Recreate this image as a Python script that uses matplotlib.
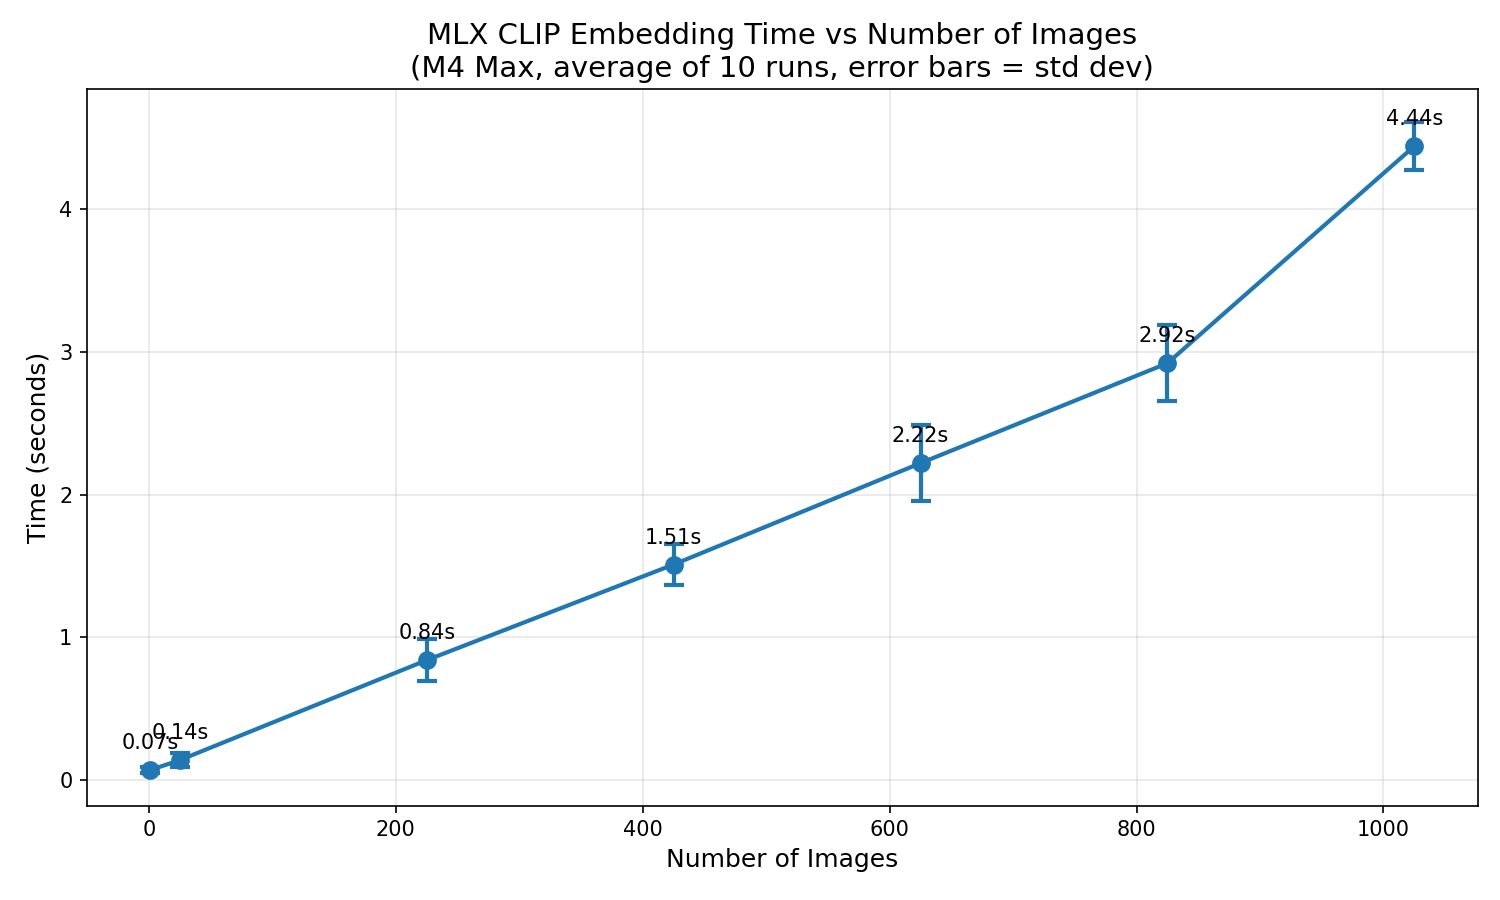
import matplotlib
matplotlib.use("Agg")
import matplotlib.pyplot as plt

# benchmark results
num_images = [1, 25, 225, 425, 625, 825, 1025]
mean_times = [0.07, 0.14, 0.84, 1.51, 2.22, 2.92, 4.44]
std_times = [0.02, 0.05, 0.145, 0.145, 0.265, 0.265, 0.17]

fig, ax = plt.subplots(figsize=(10, 6), dpi=150)

ax.errorbar(num_images, mean_times, yerr=std_times, fmt="o-", color="#1f77b4",
            linewidth=2, markersize=8, capsize=5, capthick=2, elinewidth=2)

for x, y in zip(num_images, mean_times):
    ax.annotate(f"{y:.2f}s", (x, y), textcoords="offset points", xytext=(0, 10),
                ha="center", fontsize=10)

ax.set_title("MLX CLIP Embedding Time vs Number of Images\n"
             "(M4 Max, average of 10 runs, error bars = std dev)", fontsize=14)
ax.set_xlabel("Number of Images", fontsize=12)
ax.set_ylabel("Time (seconds)", fontsize=12)
ax.grid(True, alpha=0.3)

plt.tight_layout()
plt.subplots_adjust(left=0.058, bottom=0.105)
plt.savefig("out.png")
